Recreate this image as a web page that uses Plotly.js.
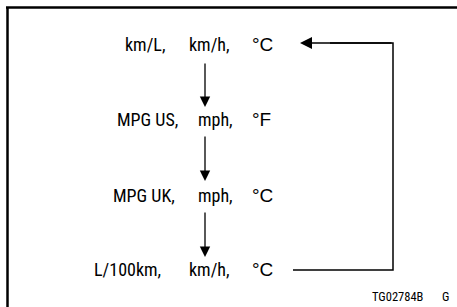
<!DOCTYPE html>
<html><head><meta charset="utf-8">
<script src="https://cdn.plot.ly/plotly-3.0.1.min.js"></script>
<style>html,body{margin:0;padding:0;background:#fff}#c{width:457px;height:307px}</style>
</head><body><div id="c"></div>
<script>
// Display unit modes cycled in order (fuel economy, speed, temperature)
const fuelUnits = ["km/L,", "MPG US,", "MPG UK,", "L/100km,"];
const speedUnits = ["km/h,", "mph,", "mph,", "km/h,"];
const tempUnits = ["°C", "°F", "°C", "°C"];
const figureCode = ["TG02784B", "G"];

const rowY = [44, 119.5, 195, 269];
const fuelX = [123, 115, 111, 92];
const speedX = [187, 196, 196, 187];
const tempX = 250;
const narrow = {family: "Roboto Condensed, DejaVu Sans Condensed, sans-serif", size: 18, color: "#000"};
const sans = {family: "Liberation Sans, Arial, sans-serif", size: 19, color: "#000"};

const ann = [];
for (let i = 0; i < fuelUnits.length; i++) {
  ann.push({x: fuelX[i], y: rowY[i], text: fuelUnits[i], xanchor: "left", yanchor: "middle", showarrow: false, font: narrow});
  ann.push({x: speedX[i], y: rowY[i], text: speedUnits[i], xanchor: "left", yanchor: "middle", showarrow: false, font: narrow});
  ann.push({x: tempX, y: rowY[i], text: tempUnits[i], xanchor: "left", yanchor: "middle", showarrow: false, font: sans});
}
// downward arrows between rows
const arrowX = 205;
const downSegs = [[62, 107], [135, 181], [211, 257]];
downSegs.forEach(s => ann.push({x: arrowX, y: s[1], ax: arrowX, ay: s[0], axref: "x", ayref: "y", xref: "x", yref: "y",
  text: "", showarrow: true, arrowhead: 2, arrowsize: 1.6, arrowwidth: 1.3, arrowcolor: "#000", standoff: 0}));
// return arrow into first row
ann.push({x: 300, y: 43, ax: 393, ay: 43, axref: "x", ayref: "y", text: "", showarrow: true,
  arrowhead: 2, arrowsize: 1.6, arrowwidth: 1.5, arrowcolor: "#000", standoff: 0});
const codeFont = {family: "Roboto Condensed, sans-serif", size: 12.5, color: "#000"};
ann.push({x: 370, y: 296, text: figureCode[0], xanchor: "left", yanchor: "middle", showarrow: false, font: codeFont});
ann.push({x: 440, y: 296, text: figureCode[1], xanchor: "left", yanchor: "middle", showarrow: false, font: codeFont});

const shapes = [
  {type: "line", x0: 7.5, y0: 7, x1: 7.5, y1: 307, line: {color: "#000", width: 2.5}},
  {type: "line", x0: 6, y0: 7.5, x1: 457, y1: 7.5, line: {color: "#000", width: 2.5}},
  {type: "path", path: "M 293 270 L 393 270 L 393 43 L 330 43", line: {color: "#000", width: 1.5}}
];

Plotly.newPlot("c", [{x: [0], y: [0], mode: "markers", marker: {opacity: 0}, hoverinfo: "skip", showlegend: false}], {
  width: 457, height: 307, margin: {l: 0, r: 0, t: 0, b: 0},
  paper_bgcolor: "#fff", plot_bgcolor: "#fff",
  xaxis: {range: [0, 457], visible: false, fixedrange: true},
  yaxis: {range: [307, 0], visible: false, fixedrange: true},
  annotations: ann, shapes: shapes, showlegend: false
}, {staticPlot: true});
</script></body></html>
